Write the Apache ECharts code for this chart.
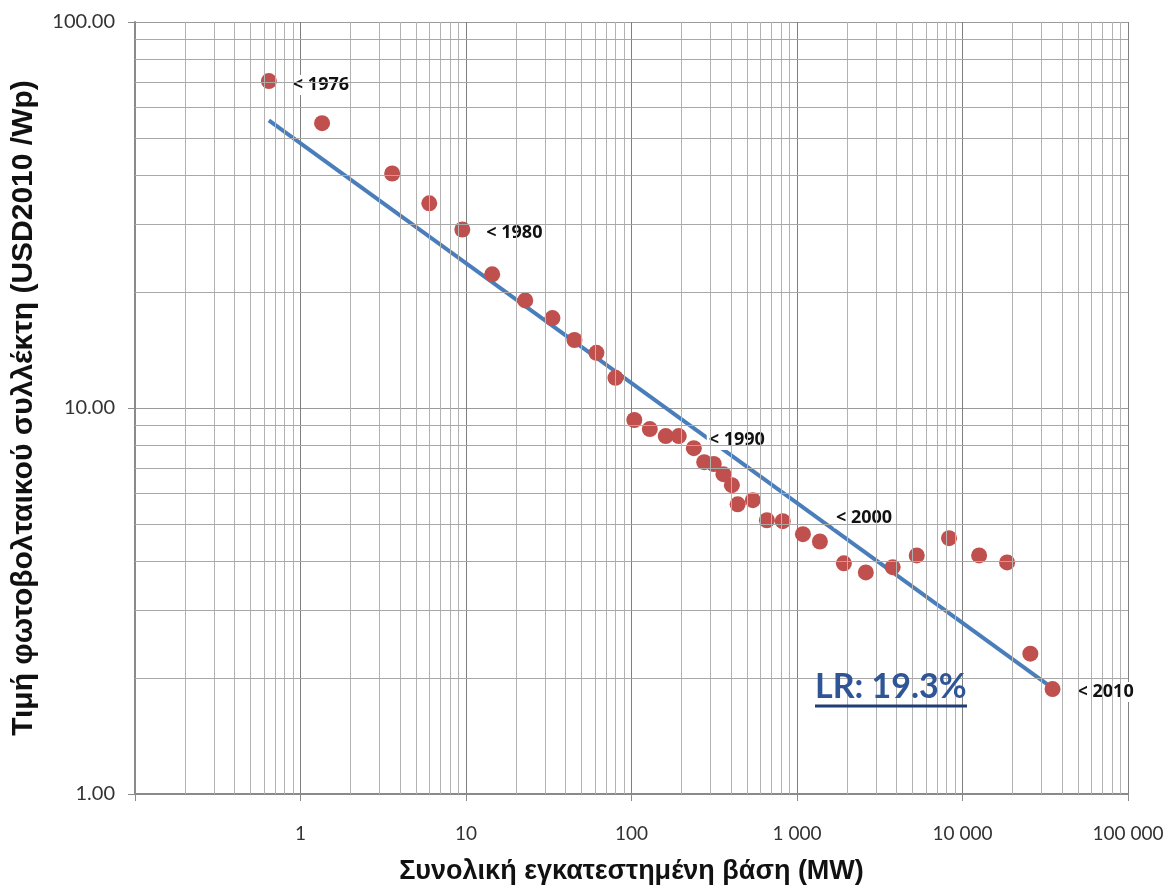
<!DOCTYPE html>
<html>
<head>
<meta charset="utf-8">
<script src="https://cdn.jsdelivr.net/npm/echarts@6/dist/echarts.min.js"></script>
<style>
html,body{margin:0;padding:0;background:#fff}
#chart{width:1169px;height:890px}
</style>
</head>
<body>
<div id="chart"></div>
<script>
// συνολική εγκατεστημένη βάση (MW) - τιμές διαβασμένες από το γράφημα
const baseMW = [0.644, 1.35, 3.58, 6.0, 9.5, 14.4, 22.8, 33.3, 45.2, 61.4, 80,
	104, 129, 161, 193, 238, 275, 314, 359, 404, 438, 541, 658, 820,
	1086, 1375, 1920, 2605, 3785, 5290, 8290, 12600, 18600, 25700, 35000];
// τιμή φωτοβολταικού (USD2010/Wp)
const priceUSD = [70.3, 54.7, 40.5, 33.9, 29.0, 22.2, 19.0, 17.1, 15.0, 13.9, 11.97,
	9.31, 8.82, 8.46, 8.46, 7.87, 7.24, 7.16, 6.74, 6.31, 5.63, 5.77, 5.12, 5.09,
	4.71, 4.51, 3.96, 3.75, 3.87, 4.15, 4.60, 4.15, 3.98, 2.31, 1.87];
// γραμμή τάσης (άκρα)
const trendMW = [0.644, 35000];
const trendPrice = [55.6, 1.88];
// ετικέτες ετών
const yearIdx = [0, 4, 14, 24, 34];
const yearText = ['< 1976', '< 1980', '< 1990', '< 2000', '< 2010'];
// ετικέτες αξόνων
const xTicks = [0.1, 1, 10, 100, 1000, 10000, 100000];
const yTicks = [1, 10, 100];

const labelShift = [[0, 4], [0, 3], [6, 4], [9, -16], [1, 3]]; // μόνο μετατόπιση κειμένου

// δευτερεύουσες γραμμές πλέγματος 2..9 ανά δεκάδα
function minors(from, to) {
	let out = [];
	for (let d = from; d < to; d *= 10) {
		for (let k = 2; k <= 9; k++) out.push(+(d * k).toPrecision(3));
	}
	return out;
}
const xMinor = minors(xTicks[0], xTicks[xTicks.length - 1]);
const yMinor = minors(yTicks[0], yTicks[yTicks.length - 1]);

const scatterData = baseMW.map((x, i) => {
	let p = { value: [x, priceUSD[i]] };
	let j = yearIdx.indexOf(i);
	if (j >= 0) {
		p.label = {
			show: true, position: 'right', distance: 14,
			formatter: yearText[j],
			offset: labelShift[j],
			backgroundColor: '#fff', padding: [1, 2],
			color: '#111', fontFamily: 'Open Sans', fontWeight: 'bold', fontSize: 18
		};
	}
	return p;
});

function fmtX(v) {
	if (v < 1) return '';
	return String(Math.round(v)).replace(/\B(?=(\d{3})+(?!\d))/g, ' ');
}

let myChart = echarts.init(document.getElementById('chart'));
myChart.setOption({
	animation: false,
	backgroundColor: '#fff',
	grid: { left: 135, right: 41, top: 22, bottom: 94 },
	xAxis: {
		type: 'log', logBase: 10, min: xTicks[0], max: xTicks[xTicks.length - 1], interval: 1,
		name: 'Συνολική εγκατεστημένη βάση (MW)', nameLocation: 'middle', nameGap: 64,
		nameTextStyle: { fontFamily: 'Liberation Sans', fontWeight: 'bold', fontSize: 27, color: '#111' },
		axisLine: { show: true, lineStyle: { color: '#8a8a8a', width: 2 } },
		axisTick: { show: true, length: 7, lineStyle: { color: '#8a8a8a', width: 1 } },
		axisLabel: { margin: 30, formatter: fmtX, fontFamily: 'Lato', fontSize: 19, color: '#333', showMinLabel: true, showMaxLabel: true },
		splitLine: { show: true, lineStyle: { color: '#7f7f7f', width: 1 } }
	},
	yAxis: {
		type: 'log', logBase: 10, min: yTicks[0], max: yTicks[yTicks.length - 1], interval: 1,
		name: 'Τιμή φωτοβολταικού συλλέκτη (USD2010 /Wp)', nameLocation: 'middle', nameGap: 96,
		nameTextStyle: { fontFamily: 'Liberation Sans', fontWeight: 'bold', fontSize: 30, color: '#111' },
		axisLine: { show: true, lineStyle: { color: '#8a8a8a', width: 2 } },
		axisTick: { show: true, length: 7, lineStyle: { color: '#8a8a8a', width: 1 } },
		axisLabel: { margin: 20, formatter: v => v.toFixed(2), fontFamily: 'Lato', fontSize: 20, color: '#333', showMinLabel: true, showMaxLabel: true },
		splitLine: { show: true, lineStyle: { color: '#9a9a9a', width: 1 } }
	},
	series: [
		{
			// πλέγμα δευτερευουσών γραμμών
			type: 'scatter', data: [], z: 1, silent: true,
			markLine: {
				silent: true, symbol: 'none', label: { show: false }, animation: false,
				lineStyle: { type: 'solid', color: '#b2b2b2', width: 1 },
				data: xMinor.map(v => ({ xAxis: v })).concat(
					yMinor.map(v => ({ yAxis: v, lineStyle: { color: '#a8a8a8' } })))
			}
		},
		{
			type: 'line', z: 3, silent: true, symbol: 'none',
			data: trendMW.map((x, i) => [x, trendPrice[i]]),
			lineStyle: { color: '#4a7ebb', width: 4 }
		},
		{
			type: 'scatter', z: 4, symbolSize: 16,
			itemStyle: { color: '#c0504d', opacity: 1 },
			data: scatterData
		}
	],
	graphic: [
		{
			type: 'text', left: 815, top: 670, z: 10,
			style: { text: 'LR: 19.3%', font: 'bold 34px Lato', fill: '#2f5597' }
		},
		{
			type: 'line', z: 10,
			shape: { x1: 815, y1: 706, x2: 967, y2: 706 },
			style: { stroke: '#1f3e74', lineWidth: 3 }
		}
	]
});
window.addEventListener('resize', function () {
	myChart.resize();
});
</script>
</body>
</html>
